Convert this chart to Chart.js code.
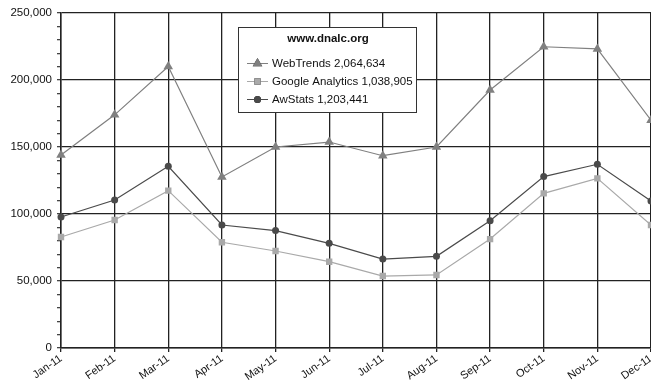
<!DOCTYPE html>
<html>
<head>
<meta charset="utf-8">
<script src="https://cdn.jsdelivr.net/npm/chart.js@4.4.1/dist/chart.umd.min.js"></script>
<style>
  html, body { margin: 0; padding: 0; background: #fff; }
  #wrap { width: 651px; height: 383px; position: relative; }
</style>
</head>
<body>
<div id="wrap"><canvas id="c"></canvas></div>
<script>
const months = ['Jan-11','Feb-11','Mar-11','Apr-11','May-11','Jun-11','Jul-11','Aug-11','Sep-11','Oct-11','Nov-11','Dec-11'];
const webTrends = [144000, 174000, 210000, 127600, 150000, 153700, 143500, 150000, 192500, 224800, 223200, 170000];
const googleAnalytics = [82800, 95500, 117400, 78900, 72400, 64400, 53700, 54500, 81300, 115400, 126600, 91800];
const awStats = [97800, 110400, 135600, 91800, 87600, 78100, 66400, 68400, 95000, 127900, 137100, 109700];
const seriesNames = ['WebTrends', 'Google Analytics', 'AwStats'];
const seriesTotals = ['2,064,634', '1,038,905', '1,203,441'];
const legendTitle = 'www.dnalc.org';
const yMax = 250000;

const FONT = '"Liberation Sans", Arial, Helvetica, sans-serif';

const legendPlugin = {
  id: 'boxLegend',
  afterDraw(chart) {
    const ctx = chart.ctx;
    const x0 = 238.5, y0 = 27.5, w = 178, h = 85;
    ctx.save();
    ctx.fillStyle = '#fff';
    ctx.fillRect(x0, y0, w, h);
    ctx.strokeStyle = '#333';
    ctx.lineWidth = 1;
    ctx.strokeRect(x0, y0, w, h);
    ctx.fillStyle = '#111';
    ctx.font = 'bold 11.5px ' + FONT;
    ctx.textAlign = 'center';
    ctx.textBaseline = 'middle';
    ctx.fillText(legendTitle, x0 + w / 2 + 0.5, 39);
    const rows = [63, 81, 99];
    chart.data.datasets.forEach((ds, i) => {
      const y = rows[i];
      ctx.strokeStyle = ds.borderColor;
      ctx.lineWidth = 1;
      ctx.beginPath();
      ctx.moveTo(247, y + 0.5);
      ctx.lineTo(268, y + 0.5);
      ctx.stroke();
      Chart.helpers.drawPoint(ctx, {
        pointStyle: ds.pointStyle,
        radius: ds.pointRadius,
        rotation: 0,
        borderWidth: 0
      }, 257.5, y + 0.5);
      ctx.fillStyle = ds.pointBackgroundColor;
      ctx.fill();
      ctx.fillStyle = '#111';
      ctx.font = '11.5px ' + FONT;
      ctx.textAlign = 'left';
      ctx.fillText(seriesNames[i] + ' ' + seriesTotals[i], 272, y + 1);
    });
    ctx.restore();
  }
};

new Chart(document.getElementById('c'), {
  type: 'line',
  data: {
    labels: months,
    datasets: [
      { label: seriesNames[0], data: webTrends, borderColor: '#808080', backgroundColor: '#808080',
        pointBackgroundColor: '#808080', pointBorderColor: '#808080', pointStyle: 'triangle', pointRadius: 5.5, borderWidth: 1.2, pointBorderWidth: 0 },
      { label: seriesNames[1], data: googleAnalytics, borderColor: '#a9a9a9', backgroundColor: '#a9a9a9',
        pointBackgroundColor: '#a9a9a9', pointBorderColor: '#a9a9a9', pointStyle: 'rect', pointRadius: 4.5, borderWidth: 1.2, pointBorderWidth: 0 },
      { label: seriesNames[2], data: awStats, borderColor: '#4a4a4a', backgroundColor: '#4a4a4a',
        pointBackgroundColor: '#4a4a4a', pointBorderColor: '#4a4a4a', pointStyle: 'circle', pointRadius: 3.5, borderWidth: 1.2, pointBorderWidth: 0 }
    ]
  },
  options: {
    responsive: true,
    maintainAspectRatio: false,
    animation: false,
    layout: { autoPadding: false, padding: { top: 13, right: 0, left: 0, bottom: 0 } },
    plugins: { legend: { display: false }, tooltip: { enabled: false } },
    elements: { line: { tension: 0 } },
    scales: {
      x: {
        offset: false,
        border: { color: '#222', width: 1.5 },
        grid: { color: '#222', lineWidth: 1.3, tickLength: 4, tickColor: '#222' },
        ticks: { color: '#111', font: { family: FONT, size: 11 }, maxRotation: 35, minRotation: 35, padding: 0, autoSkip: false },
        afterFit(s) {
          s.height = 35;
          s.paddingRight = 0; s.paddingLeft = 0;
        }
      },
      y: {
        min: 0, max: yMax,
        border: { color: '#222', width: 1.5 },
        grid: {
          color: ctx => (ctx.tick && ctx.tick.value % 50000 === 0) ? '#222' : 'rgba(0,0,0,0)',
          lineWidth: 1.3,
          tickLength: 4,
          tickColor: '#444'
        },
        ticks: {
          stepSize: 10000,
          autoSkip: false,
          color: '#111',
          padding: 5,
          font: { family: FONT, size: 11.5 },
          callback: v => v % 50000 === 0 ? v.toLocaleString('en-US') : ''
        },
        afterFit(s) {
          s.width = 61;
          s.paddingTop = 0; s.paddingBottom = 0;
        }
      }
    }
  },
  plugins: [legendPlugin]
});
</script>
</body>
</html>
